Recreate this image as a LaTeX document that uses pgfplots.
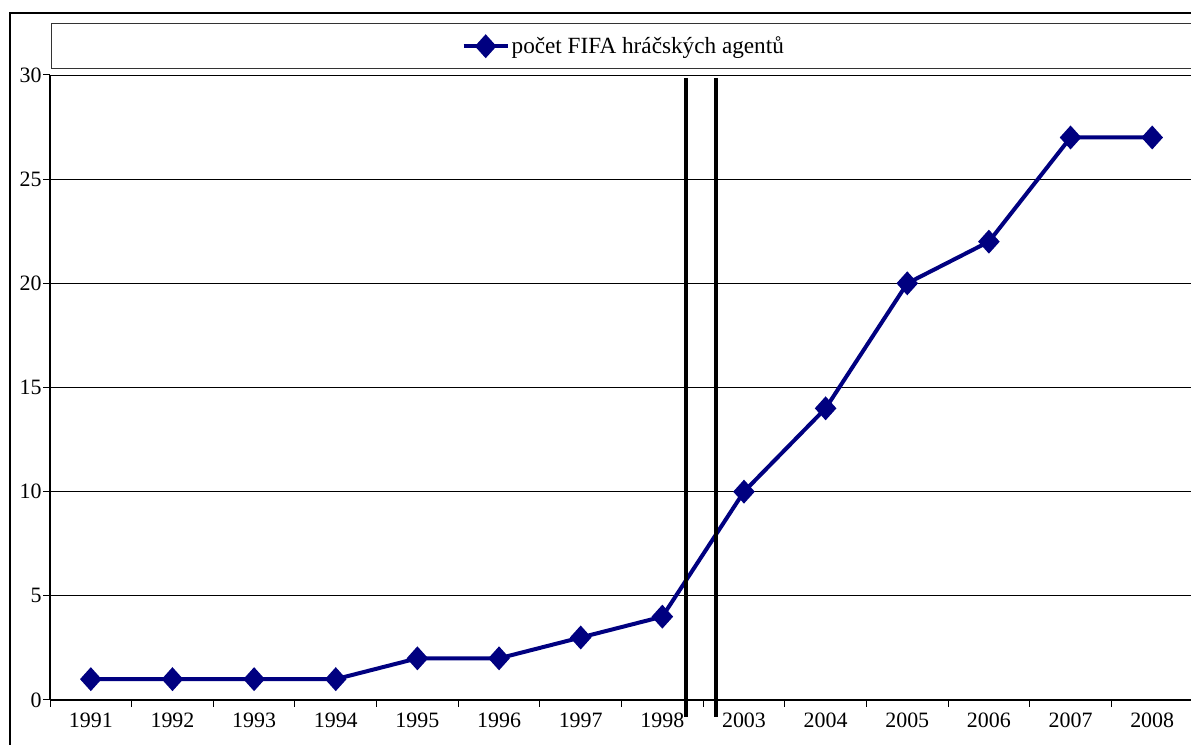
\documentclass[border=0pt]{standalone}
\usepackage{fontspec}
\setmainfont{Liberation Serif}
\usepackage{pgfplots}
\pgfplotsset{compat=1.18}
\definecolor{navy}{HTML}{000080}
\begin{document}
\begin{tikzpicture}[x=1bp,y=1bp]
\useasboundingbox (0,0) rectangle (1191,745);
\begin{scope}
\clip (0,0) rectangle (1191,745);
\draw[line width=2bp] (10,-20) rectangle (1220,732);
\draw[line width=1bp, draw=black!80] (51,676) rectangle (1220,721);
\begin{axis}[
  at={(50bp,45bp)}, anchor=south west,
  scale only axis, width=1143bp, height=625bp,
  xmin=-0.5, xmax=13.5, ymin=0, ymax=30,
  axis x line*=bottom, axis y line*=left,
  axis line style={line width=1.5bp},
  xtick={0,...,13},
  xticklabels={1991,1992,1993,1994,1995,1996,1997,1998,2003,2004,2005,2006,2007,2008},
  minor xtick={-0.5,0.5,...,13.5},
  major x tick style={draw=none},
  minor tick length=7bp,
  major tick length=7bp,
  tick align=outside,
  tick style={black, line width=1bp},
  ytick={0,5,...,30},
  ymajorgrids,
  grid style={black, line width=0.8bp},
  /pgf/number format/assume math mode=true,
  tick label style={font=\fontsize{22}{26}\selectfont},
  yticklabel style={xshift=2bp},
  xticklabel style={yshift=-2bp},
  legend style={at={(0.502,1.046)}, anchor=center, draw=none, fill=none,
    font=\fontsize{23.3}{27}\selectfont, inner sep=0pt},
  legend image code/.code={\draw[mark repeat=2,mark phase=2,#1] plot coordinates {(0bp,0bp) (22bp,0bp) (44bp,0bp)};},
  clip=false,
]
\addplot[navy, line width=4bp, mark=diamond*, mark size=9bp, mark options={solid, xscale=1.2}]
  coordinates {(0,1) (1,1) (2,1) (3,1) (4,2) (5,2) (6,3) (7,4) (8,10) (9,14) (10,20) (11,22) (12,27) (13,27)};
\addlegendentry{počet FIFA hráčských agentů}
\end{axis}
\draw[line width=3.5bp] (686,667) -- (686,28);
\draw[line width=3.5bp] (716,667) -- (716,28);
\end{scope}
\end{tikzpicture}
\end{document}
